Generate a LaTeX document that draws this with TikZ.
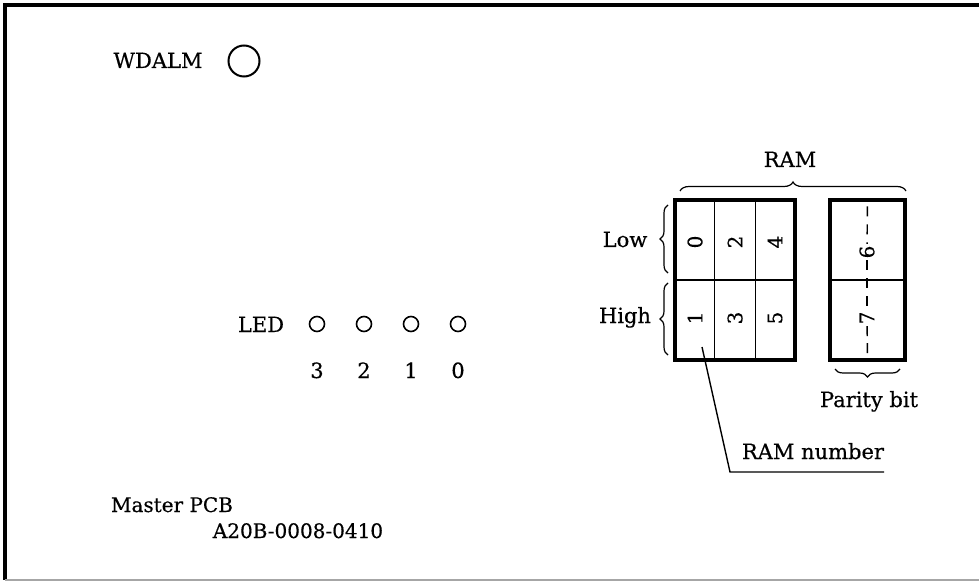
\documentclass[tikz,border=0pt]{standalone}
\usepackage{fontspec}
\setmainfont{DejaVu Serif}[FakeBold=0.5]
\usetikzlibrary{calc,decorations.pathreplacing}
\tikzset{txt/.style={font=\fontsize{21}{24}\selectfont,inner sep=0pt,anchor=base},
  led/.style={circle,draw,line width=1.6pt,minimum size=15pt,inner sep=0pt},
  chip/.style={draw,line width=3.4pt,minimum width=120pt,minimum height=160pt,inner sep=0pt},
  sep/.style={line width=1.4pt},
  bit/.style={font=\fontsize{20}{22}\selectfont,rotate=90,inner sep=1.5pt},
  brc/.style={decorate,decoration={brace,amplitude=8pt},line width=1.2pt}}

\begin{document}
\begin{tikzpicture}[x=1pt,y=-1pt]
\useasboundingbox (0,0) rectangle (979,585);
\draw[line width=3.4pt] (979,5) -- (5,5) -- (5,580);
\draw[line width=1.6pt,black!35] (5,580) -- (979,580);
\node[txt] (wdalm) at (158,68) {WDALM};
\node[led,minimum size=31pt,line width=2pt] (wled) at (244,61) {};
\node[txt] (led) at (261,332) {LED};
\foreach \i/\x in {3/317,2/364,1/411,0/458} {
  \node[led] (led\i) at (\x,324) {};
  \node[txt] (num\i) at (\x,378) {\i};
}
\node[chip] (ram) at (735,280) {};
\node[chip,minimum width=75pt] (par) at (867.5,280) {};
\draw[sep] (ram.west) -- (ram.east);
\draw[sep] ($(ram.north west)!1/3!(ram.north east)$) -- ($(ram.south west)!1/3!(ram.south east)$);
\draw[sep] ($(ram.north west)!2/3!(ram.north east)$) -- ($(ram.south west)!2/3!(ram.south east)$);
\draw[sep] (par.west) -- (par.east);
\foreach \d/\x/\y in {0/695/242,1/695/318,2/735/242,3/735/318,4/775/242,5/775/318}
  \node[bit] (bit\d) at (\x,\y) {\d};
\node[bit] (bit6) at (867,252) {6};
\node[bit] (bit7) at (867,318) {7};
\draw[sep,dash pattern=on 10pt off 8pt,dash phase=-8pt] (par.north) -- (bit6);
\draw[sep,dash pattern=on 10pt off 8pt] (bit6) -- (bit7);
\draw[sep,dash pattern=on 10pt off 7pt] (bit7) -- (par.south);
\draw[brc,decoration={amplitude=9pt}] (680,191) -- (906,191);
\node[txt] (ramlbl) at (790,167) {RAM};
\draw[brc] (668,273) -- (668,205);
\draw[brc] (668,355) -- (668,283);
\node[txt] (low) at (625,247) {Low};
\node[txt] (high) at (625,323) {High};
\draw[brc] (900,369) -- (835,369);
\node[txt] (parity) at (869,407) {Parity bit};
\coordinate (tail) at (702,347);
\coordinate (knee) at (730,472);
\coordinate (tailend) at (884,472);
\draw[sep] (tail) -- (knee) -- (tailend);
\node[txt] (ramnum) at (813,459) {RAM number};
\node[txt,font=\fontsize{20}{24}\selectfont] (master) at (172,512) {Master PCB};
\node[txt,font=\fontsize{20}{24}\selectfont] (pcbno) at (298,538) {A20B-0008-0410};
\end{tikzpicture}
\end{document}
